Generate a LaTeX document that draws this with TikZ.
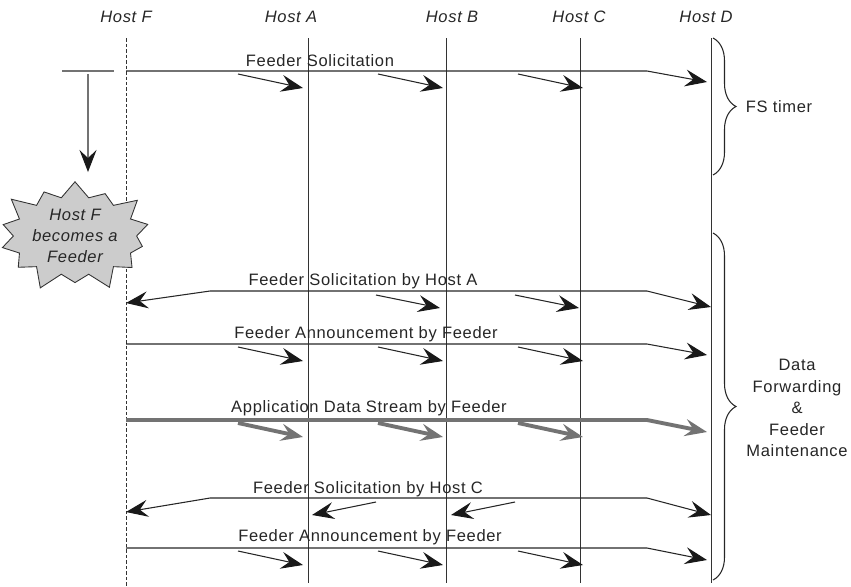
\documentclass[tikz,border=0pt]{standalone}
\usepackage{fontspec}
\setmainfont{Liberation Sans}[LetterSpace=4]
\usetikzlibrary{arrows.meta, positioning, calc, shapes.symbols, decorations.pathreplacing}

\begin{document}
\begin{tikzpicture}[
    x=0.02cm, y=-0.02cm,
    font=\fontsize{9.4}{11}\selectfont,
    every node/.style={text=black!85},
    host/.style={font=\fontsize{9.4}{11}\selectfont\itshape},
    lbl/.style={inner sep=0pt},
    life/.style={draw=black!80, line width=0.5pt},
    tip/.style={-{Stealth[length=4.4mm, width=3.4mm, inset=1.6mm, #1]}},
    msg/.style={draw=black!85, line width=0.6pt, tip=black!90},
    data/.style={draw=black!55, line width=2.2pt, tip=black!55},
    burst/.style={starburst, draw=black!80, fill=black!20, line width=0.5pt, align=center,
                  starburst points=14, starburst point height=0.42cm, inner sep=0.5pt,
                  font=\fontsize{9.4}{12}\selectfont\itshape},
    timer/.style={decorate, draw=black!85, line width=0.6pt, decoration={brace, amplitude=4.6mm}}
]
    \useasboundingbox (0,0) rectangle (851,586);

    % hosts and lifelines
    \node[host] (hF) at (126,17) {Host F};
    \coordinate (tF) at (126,38);
    \coordinate (bF) at (126,586);
    \draw[life, dash pattern=on 0.7mm off 0.4mm] (tF) -- (bF);
    \foreach \n/\x/\lx in {A/308/291, B/446/452, C/580/579, D/711/706} {
        \node[host] (h\n) at (\lx,17) {Host \n};
        \coordinate (t\n) at (\x,38);
        \coordinate (b\n) at (\x,583);
        \draw[life] (t\n) -- (b\n);
    }

    % Host F waits, then becomes a feeder
    \coordinate (wL) at (62,71);
    \coordinate (wR) at (114,71);
    \draw[draw=black!55, line width=0.6pt] (wL) -- (wR);
    \node[burst] (feeder) at (75,236) {Host F\\becomes a\\Feeder};
    \draw[draw=black!55, line width=0.6pt, tip=black!90]
        ($(wL)!0.5!(wR)+(0,3)$) -- ($(wL)!0.5!(wR)+(0,101)$);

    % Feeder Solicitation
    \node[lbl] (m1) at (320,61) {Feeder Solicitation};
    \draw[msg] (tF |- 0,71) -- (647,71) -- (707,82);
    \foreach \x in {238,378,518} \draw[msg] (\x,74) -- ++(65,14);

    % Feeder Solicitation by Host A
    \node[lbl] (m2) at (363,281) {Feeder Solicitation by Host A};
    \draw[msg] (647,291) -- (210,291) -- (tF |- 0,303);
    \draw[msg] (647,291) -- (tD |- 0,307);
    \foreach \x in {376,515} \draw[msg] (\x,295) -- ++(64,13);

    % Feeder Announcement by Feeder
    \node[lbl] (m3) at (366,334) {Feeder Announcement by Feeder};
    \draw[msg] (tF |- 0,344) -- (647,344) -- (707,355);
    \foreach \x in {238,378,518} \draw[msg] (\x,347) -- ++(65,14);

    % Application Data Stream by Feeder
    \node[lbl] (m4) at (369,408) {Application Data Stream by Feeder};
    \draw[data] (tF |- 0,420) -- (647,420) -- (707,432);
    \foreach \x in {238,378,518} \draw[data] (\x,423) -- ++(65,14);

    % Feeder Solicitation by Host C
    \node[lbl] (m5) at (368,489) {Feeder Solicitation by Host C};
    \draw[msg] (647,498) -- (210,498) -- (tF |- 0,512);
    \draw[msg] (647,498) -- (tD |- 0,515);
    \foreach \x in {376,515} \draw[msg] (\x,502) -- ++(-64,13);

    % Feeder Announcement by Feeder
    \node[lbl] (m6) at (370,537) {Feeder Announcement by Feeder};
    \draw[msg] (tF |- 0,548) -- (647,548) -- (707,560);
    \foreach \x in {238,378,518} \draw[msg] (\x,551) -- ++(65,14);

    % timers
    \draw[timer] (713,38) -- (713,175);
    \node (fs) at (779,107) {FS timer};
    \draw[timer] (713,233) -- (713,580);
    \node[align=center, font=\fontsize{9.4}{12.3}\selectfont] (maint) at (797,408)
        {Data\\Forwarding\\\&\\Feeder\\Maintenance};
\end{tikzpicture}
\end{document}
